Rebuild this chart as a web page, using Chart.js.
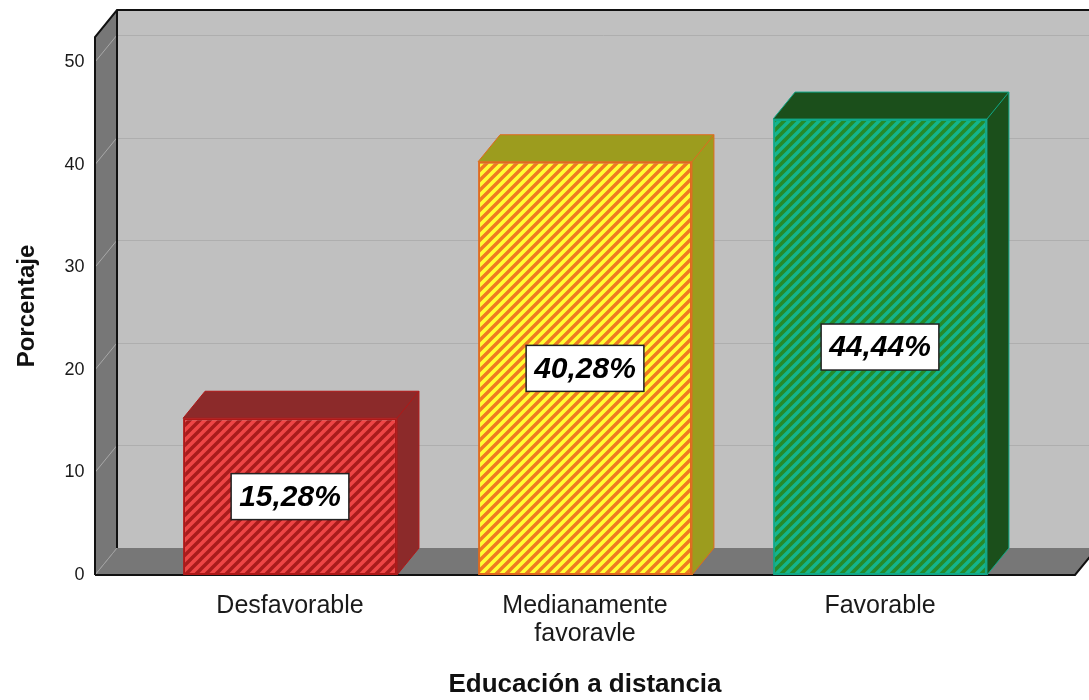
<!DOCTYPE html>
<html>
<head>
<meta charset="utf-8">
<script src="https://cdn.jsdelivr.net/npm/chart.js@4.4.1/dist/chart.umd.min.js"></script>
<style>
  html, body { margin: 0; padding: 0; background: #ffffff; }
  #wrap { width: 1089px; height: 700px; }
</style>
</head>
<body>
<div id="wrap"><canvas id="chart" width="1089" height="700"></canvas></div>
<script>
'use strict';

// ─── Data ────────────────────────────────────────────────────────────────────
const categories = ['Desfavorable', ['Medianamente', 'favoravle'], 'Favorable'];
const percentages = [15.28, 40.28, 44.44];
const valueLabels = ['15,28%', '40,28%', '44,44%'];
const yTicks = [0, 10, 20, 30, 40, 50];

// front face (base, stripe, border) and top/side colour for each bar
const frontColors  = ['#ee4646', '#ffff33', '#268a2a'];
const stripeColors = ['#a81c1c', '#ee7a22', '#14b48c'];
const borderColors = ['#b01818', '#e06a1e', '#10a888'];
const depthColors  = ['#8c2a2a', '#9c9c1e', '#1b4f1b'];

// 3D depth offset of the back plane
const DEPTH_X = 22;
const DEPTH_Y = -27;

const canvas = document.getElementById('chart');
const mainCtx = canvas.getContext('2d');

// Diagonal "/" hatching used on the bar front faces
function makeStripes(bg, fg) {
  const s = 10;
  const tile = document.createElement('canvas');
  tile.width = s;
  tile.height = s;
  const g = tile.getContext('2d');
  g.fillStyle = bg;
  g.fillRect(0, 0, s, s);
  g.strokeStyle = fg;
  g.lineWidth = 3.4;
  g.beginPath();
  for (const o of [-s, 0, s]) {
    g.moveTo(o - 2, s + 2);
    g.lineTo(o + s + 2, -2);
  }
  g.stroke();
  return mainCtx.createPattern(tile, 'repeat');
}

const patterns = frontColors.map((c, i) => makeStripes(c, stripeColors[i]));

// ─── Walls, floor and bar depth faces ────────────────────────────────────────
const box3d = {
  id: 'box3d',
  beforeDatasetsDraw(chart) {
    const { ctx, chartArea, scales } = chart;
    const y = scales.y;
    const left = chartArea.left - 47.5;
    const right = chartArea.right + 47.5;
    const top = chartArea.top;
    const bottom = chartArea.bottom;

    ctx.save();
    // back wall
    ctx.fillStyle = '#c0c0c0';
    ctx.fillRect(left + DEPTH_X, top + DEPTH_Y, right - left + 20, bottom - top);

    // back wall grid lines
    ctx.strokeStyle = '#aeaeae';
    ctx.lineWidth = 1;
    for (const t of yTicks.slice(1)) {
      const py = Math.round(y.getPixelForValue(t) + DEPTH_Y) + 0.5;
      ctx.beginPath();
      ctx.moveTo(left + DEPTH_X, py);
      ctx.lineTo(right + DEPTH_X + 20, py);
      ctx.stroke();
    }

    // left wall
    ctx.fillStyle = '#777777';
    ctx.beginPath();
    ctx.moveTo(left, top);
    ctx.lineTo(left + DEPTH_X, top + DEPTH_Y);
    ctx.lineTo(left + DEPTH_X, bottom + DEPTH_Y);
    ctx.lineTo(left, bottom);
    ctx.closePath();
    ctx.fill();

    // left wall grid lines
    ctx.strokeStyle = '#a8a8a8';
    for (const t of yTicks.slice(1)) {
      const py = y.getPixelForValue(t);
      ctx.beginPath();
      ctx.moveTo(left, py);
      ctx.lineTo(left + DEPTH_X, py + DEPTH_Y);
      ctx.stroke();
    }

    // floor
    ctx.fillStyle = '#777777';
    ctx.beginPath();
    ctx.moveTo(left, bottom);
    ctx.lineTo(left + DEPTH_X, bottom + DEPTH_Y);
    ctx.lineTo(right + DEPTH_X, bottom + DEPTH_Y);
    ctx.lineTo(right, bottom);
    ctx.closePath();
    ctx.fill();
    ctx.strokeStyle = '#a0a0a0';
    ctx.beginPath();
    ctx.moveTo(left, bottom);
    ctx.lineTo(left + DEPTH_X, bottom + DEPTH_Y);
    ctx.stroke();

    // black outline
    ctx.strokeStyle = '#111111';
    ctx.lineWidth = 2;
    ctx.beginPath();
    ctx.moveTo(left, bottom);
    ctx.lineTo(left, top);
    ctx.lineTo(left + DEPTH_X, top + DEPTH_Y);
    ctx.lineTo(right + DEPTH_X + 20, top + DEPTH_Y);
    ctx.moveTo(left + DEPTH_X, top + DEPTH_Y);
    ctx.lineTo(left + DEPTH_X, bottom + DEPTH_Y);
    ctx.moveTo(left, bottom);
    ctx.lineTo(right, bottom);
    ctx.lineTo(right + DEPTH_X, bottom + DEPTH_Y);
    ctx.stroke();

    // bar top and side faces
    const meta = chart.getDatasetMeta(0);
    meta.data.forEach((bar, i) => {
      const { x, y: by, base, width } = bar.getProps(['x', 'y', 'base', 'width'], true);
      const l = x - width / 2;
      const r = x + width / 2;
      ctx.fillStyle = depthColors[i];
      ctx.strokeStyle = borderColors[i];
      ctx.lineWidth = 1;
      ctx.beginPath();
      ctx.moveTo(l, by);
      ctx.lineTo(l + DEPTH_X, by + DEPTH_Y);
      ctx.lineTo(r + DEPTH_X, by + DEPTH_Y);
      ctx.lineTo(r + DEPTH_X, base + DEPTH_Y);
      ctx.lineTo(r, base);
      ctx.lineTo(r, by);
      ctx.closePath();
      ctx.fill();
      ctx.stroke();
      ctx.beginPath();
      ctx.moveTo(r, by);
      ctx.lineTo(r + DEPTH_X, by + DEPTH_Y);
      ctx.stroke();
    });
    ctx.restore();
  },

  // white value boxes in the middle of each bar
  afterDatasetsDraw(chart) {
    const { ctx, scales } = chart;
    const meta = chart.getDatasetMeta(0);
    ctx.save();
    ctx.font = 'italic bold 30px "Liberation Sans", Arial, sans-serif';
    ctx.textAlign = 'center';
    ctx.textBaseline = 'middle';
    meta.data.forEach((bar, i) => {
      const cx = bar.x;
      const cy = scales.y.getPixelForValue(percentages[i] / 2);
      const w = ctx.measureText(valueLabels[i]).width + 16;
      const h = 46;
      ctx.fillStyle = '#ffffff';
      ctx.fillRect(cx - w / 2, cy - h / 2, w, h);
      ctx.strokeStyle = '#222222';
      ctx.lineWidth = 1.5;
      ctx.strokeRect(cx - w / 2, cy - h / 2, w, h);
      ctx.fillStyle = '#000000';
      ctx.fillText(valueLabels[i], cx, cy + 1);
    });
    ctx.restore();
  },
};

// ─── Chart ───────────────────────────────────────────────────────────────────
new Chart(mainCtx, {
  type: 'bar',
  data: {
    labels: categories,
    datasets: [{
      data: percentages,
      backgroundColor: patterns,
      borderColor: borderColors,
      borderWidth: 2,
      borderSkipped: false,
      categoryPercentage: 1,
      barPercentage: 0.725,
    }],
  },
  options: {
    responsive: false,
    animation: false,
    layout: { padding: { top: 37, right: 61.5, left: 0, bottom: 0 } },
    plugins: {
      legend: { display: false },
      tooltip: { enabled: false },
    },
    scales: {
      x: {
        grid: { display: false, drawTicks: false },
        border: { display: false },
        ticks: {
          color: '#1a1a1a',
          padding: 17,
          maxRotation: 0,
          font: { family: '"Liberation Sans", Arial, sans-serif', size: 25, lineHeight: 1.12 },
        },
        title: {
          display: true,
          text: 'Educación a distancia',
          color: '#111111',
          padding: { top: 0, bottom: 0 },
          font: { family: '"Liberation Sans", Arial, sans-serif', size: 26, weight: 'bold' },
        },
        afterFit: (s) => {
          s.height = 125;
          s.paddingLeft = 0;
          s.paddingRight = 0;
        },
      },
      y: {
        min: 0,
        max: 52.44,
        grid: { display: false, drawTicks: false },
        border: { display: false },
        ticks: {
          stepSize: 10,
          includeBounds: false,
          color: '#1a1a1a',
          padding: 58,
          font: { family: '"Liberation Sans", Arial, sans-serif', size: 18 },
        },
        title: {
          display: true,
          text: 'Porcentaje',
          color: '#111111',
          padding: { top: 13, bottom: 0 },
          font: { family: '"Liberation Sans", Arial, sans-serif', size: 24, weight: 'bold' },
        },
        afterFit: (s) => {
          s.width = 142.5;
          s.paddingTop = 0;
          s.paddingBottom = 0;
        },
      },
    },
  },
  plugins: [box3d],
});
</script>
</body>
</html>
